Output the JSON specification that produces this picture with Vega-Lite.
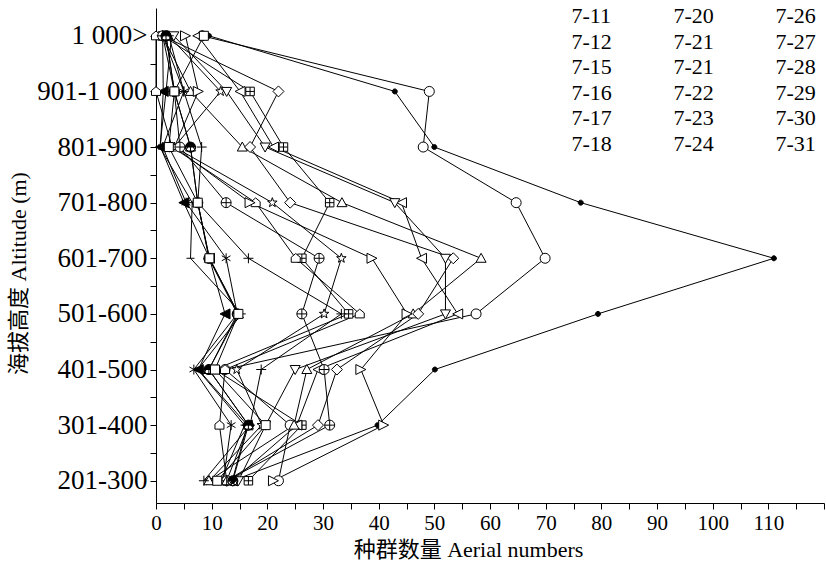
{
  "$schema": "https://vega.github.io/schema/vega-lite/v6.json",
  "width": 668,
  "height": 495,
  "autosize": {"type": "none"},
  "padding": {"left": 156, "top": 8, "right": 2, "bottom": 73},
  "background": "white",
  "config": {
    "view": {"stroke": null},
    "font": "Liberation Serif, Noto Sans CJK SC",
    "axis": {
      "grid": false,
      "domainColor": "black",
      "tickColor": "black",
      "labelColor": "black",
      "titleColor": "black",
      "labelFont": "Liberation Serif",
      "titleFont": "Liberation Serif, Noto Sans CJK SC",
      "labelFontSize": 21,
      "titleFontSize": 22,
      "titleFontWeight": "normal",
      "tickSize": 6,
      "domainWidth": 1,
      "tickWidth": 1
    }
  },
  "data": {
    "values": [
      {"low": 1000, "7-11": 1.2, "7-12": 1.2, "7-15": 8.3, "7-16": 1.2, "7-17": 2.3, "7-18": 2.8, "7-20": 7.5, "7-21a": 1.2, "7-21b": 0, "7-22": 1.2, "7-23": 9.5, "7-24": 3.2, "7-26": 5.3, "7-27": 2.3, "7-28": 1.2, "7-29": 1.8, "7-30": 1.8, "7-31": 8.6},
      {"low": 900, "7-11": 5.0, "7-12": 16.9, "7-15": 49.1, "7-16": 1.3, "7-17": 11.6, "7-18": 1.8, "7-20": 15.1, "7-21a": 6.2, "7-21b": 0, "7-22": 22.0, "7-23": 42.9, "7-24": 12.7, "7-26": 7.6, "7-27": 5.0, "7-28": 3.3, "7-29": 3.3, "7-30": 3.3, "7-31": 3.3},
      {"low": 800, "7-11": 1.2, "7-12": 22.9, "7-15": 48.0, "7-16": 0.8, "7-17": 3.3, "7-18": 0.7, "7-20": 21.1, "7-21a": 15.5, "7-21b": 2.9, "7-22": 16.9, "7-23": 50.0, "7-24": 19.6, "7-26": 3.3, "7-27": 8.2, "7-28": 4.3, "7-29": 6.2, "7-30": 6.2, "7-31": 2.3},
      {"low": 700, "7-11": 5.4, "7-12": 31.2, "7-15": 64.7, "7-16": 5.0, "7-17": 20.9, "7-18": 6.5, "7-20": 44.1, "7-21a": 33.4, "7-21b": 17.9, "7-22": 24.1, "7-23": 76.3, "7-24": 42.9, "7-26": 16.9, "7-27": 7.5, "7-28": 12.6, "7-29": 7.5, "7-30": 7.5, "7-31": 7.5},
      {"low": 600, "7-11": 12.6, "7-12": 26.2, "7-15": 69.9, "7-16": 9.6, "7-17": 33.3, "7-18": 6.2, "7-20": 47.7, "7-21a": 58.4, "7-21b": 25.1, "7-22": 53.4, "7-23": 111, "7-24": 52.0, "7-26": 38.8, "7-27": 16.6, "7-28": 29.3, "7-29": 9.6, "7-30": 9.5, "7-31": 9.6},
      {"low": 500, "7-11": 14.6, "7-12": 34.6, "7-15": 57.5, "7-16": 12.4, "7-17": 30.2, "7-18": 15.4, "7-20": 54.2, "7-21a": 46.2, "7-21b": 36.6, "7-22": 47.1, "7-23": 79.4, "7-24": 52.0, "7-26": 45.1, "7-27": 33.3, "7-28": 26.2, "7-29": 14.8, "7-30": 14.6, "7-31": 14.8},
      {"low": 400, "7-11": 6.8, "7-12": 10.6, "7-15": 12.4, "7-16": 7.6, "7-17": 14.5, "7-18": 7.5, "7-20": 29.1, "7-21a": 27.1, "7-21b": 12.4, "7-22": 32.5, "7-23": 50.1, "7-24": 25.0, "7-26": 36.8, "7-27": 18.9, "7-28": 30.2, "7-29": 9.5, "7-30": 9.5, "7-31": 10.6},
      {"low": 300, "7-11": 13.5, "7-12": 26.2, "7-15": 24.1, "7-16": 16.4, "7-17": 19.0, "7-18": 15.9, "7-20": 25.3, "7-21a": 24.8, "7-21b": 11.4, "7-22": 29.1, "7-23": 39.8, "7-24": 19.7, "7-26": 40.9, "7-27": 16.9, "7-28": 31.2, "7-29": 16.6, "7-30": 16.6, "7-31": 19.7},
      {"low": 200, "7-11": 12.1, "7-12": 16.6, "7-15": 22.0, "7-16": 13.7, "7-17": 9.6, "7-18": 11.7, "7-20": 13.8, "7-21a": 9.5, "7-21b": 12.7, "7-22": 12.7, "7-23": 13.8, "7-24": 14.8, "7-26": 21.1, "7-27": 8.6, "7-28": 12.7, "7-29": 12.7, "7-30": 13.8, "7-31": 11.0}
    ]
  },
  "transform": [
    {"fold": ["7-11", "7-12", "7-15", "7-16", "7-17", "7-18", "7-20", "7-21a", "7-21b", "7-22", "7-23", "7-24", "7-26", "7-27", "7-28", "7-29", "7-30", "7-31"], "as": ["series", "count"]}
  ],
  "encoding": {
    "x": {
      "field": "count",
      "type": "quantitative",
      "scale": {"domain": [0, 120], "nice": false, "zero": false},
      "axis": {
        "values": [0, 5, 10, 15, 20, 25, 30, 35, 40, 45, 50, 55, 60, 65, 70, 75, 80, 85, 90, 95, 100, 105, 110, 115, 120],
        "labelExpr": "datum.value % 10 == 0 && datum.value < 120 ? datum.label : ''",
        "title": "种群数量 Aerial numbers",
        "titleX": 312,
        "titlePadding": 6,
        "labelPadding": 3,
        "labelFlush": false,
        "labelOverlap": false
      }
    },
    "y": {
      "field": "low",
      "type": "quantitative",
      "scale": {"domain": [160, 1050], "nice": false, "zero": false},
      "axis": {
        "values": [200, 250, 300, 350, 400, 450, 500, 550, 600, 650, 700, 750, 800, 850, 900, 950, 1000],
        "labelExpr": "datum.value == 1000 ? '1 000>' : datum.value == 900 ? '901-1 000' : datum.value % 100 == 0 ? (datum.value + 1) + '-' + (datum.value + 100) : ''",
        "title": "海拔高度 Altitude (m)",
        "titleY": 265,
        "titlePadding": 6,
        "labelPadding": 3,
        "labelFontSize": 27,
        "labelOverlap": false,
        "labelFlush": false
      }
    }
  },
  "layer": [
    {
      "mark": {"type": "line", "color": "black", "strokeWidth": 1},
      "encoding": {
        "detail": {"field": "series", "type": "nominal"},
        "order": {"field": "low", "sort": "descending"}
      }
    },
    {
      "mark": {"type": "point", "filled": true, "stroke": "black", "strokeWidth": 1, "size": 100, "opacity": 1},
      "encoding": {
        "shape": {
          "field": "series",
          "type": "nominal",
          "scale": {
            "domain": ["7-11", "7-12", "7-15", "7-16", "7-17", "7-18", "7-20", "7-21a", "7-21b", "7-22", "7-23", "7-24", "7-26", "7-27", "7-28", "7-29", "7-30", "7-31"],
            "range": [
              "M0,-1V1M-0.87,-0.5L0.87,0.5M-0.87,0.5L0.87,-0.5",
              "M-0.85,-0.85H0.85V0.85H-0.85ZM0,-0.85V0.85M-0.85,0H0.85",
              "M-1,0A1,1 0 1,1 1,0A1,1 0 1,1 -1,0Z",
              "M-1,0L1,-1V1Z",
              "M0,-1L0.235,-0.324L0.951,-0.309L0.38,0.124L0.588,0.809L0,0.4L-0.588,0.809L-0.38,0.124L-0.951,-0.309L-0.235,-0.324Z",
              "M-0.8,0H0.8",
              "M-1,0L1,-1V1Z",
              "M0,-1L1,0.8H-1Z",
              "M-0.9,0.8V-0.2L0,-0.95L0.9,-0.2V0.8Z",
              "M0,-1.1L1.1,0L0,1.1L-1.1,0Z",
              "M-0.5,0A0.5,0.5 0 1,1 0.5,0A0.5,0.5 0 1,1 -0.5,0Z",
              "M0,1L1,-0.8H-1Z",
              "M1,0L-1,-1V1Z",
              "M-1,0H1M0,-1V1",
              "M-1,0A1,1 0 1,1 1,0A1,1 0 1,1 -1,0ZM-1,0H1M0,-1V1",
              "M0,-1L1,0.8H-1ZM0,-1V0.8",
              "M-1,0A1,1 0 1,1 1,0A1,1 0 1,1 -1,0ZM-1,0A1,1 0 0,0 1,0Z",
              "M-0.9,-0.9H0.9V0.9H-0.9Z"
            ]
          },
          "legend": {
            "title": null,
            "orient": "none",
            "legendX": 362,
            "legendY": -3,
            "columns": 3,
            "padding": 0,
            "symbolSize": 81,
            "symbolOffset": 17.5,
            "symbolStrokeColor": "black",
            "symbolStrokeWidth": 1,
            "labelOffset": 14,
            "columnPadding": 8,
            "rowPadding": 3.5,
            "labelFont": "Liberation Serif",
            "labelFontSize": 22,
            "labelColor": "black",
            "labelExpr": "slice(datum.label, 0, 4)"
          }
        },
        "fill": {
          "condition": {"test": "datum.series == '7-16' || datum.series == '7-23' || datum.series == '7-30'", "value": "black"},
          "value": "white"
        }
      }
    }
  ]
}
